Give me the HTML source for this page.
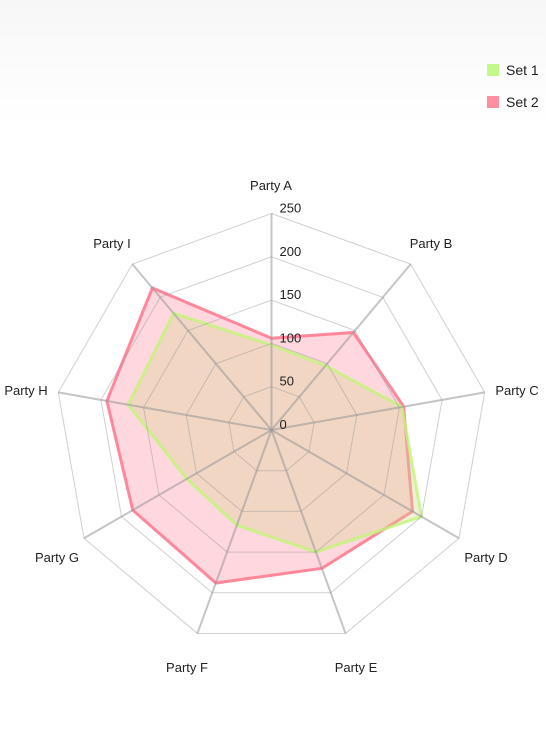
<!DOCTYPE html>
<html><head><meta charset="utf-8"><style>
html,body{margin:0;padding:0;background:#fff;}
body{width:546px;height:729px;overflow:hidden;position:relative;font-family:"Liberation Sans",sans-serif;}
#hdr{position:absolute;left:0;top:0;width:546px;height:125px;background:linear-gradient(#f7f7f7,#fff);}
svg{position:absolute;left:0;top:0;}
</style></head><body>
<div id="hdr"></div>
<svg id="chart" width="546" height="729">
<g>
<g><rect x="487" y="64" width="12" height="12" fill="#c4f98a"/><text x="506" y="75" font-size="14" fill="#222">Set 1</text></g>
<g><rect x="487" y="96" width="12" height="12" fill="#ff8e9e"/><text x="506" y="107" font-size="14" fill="#222">Set 2</text></g>
</g>
</svg>
<script>
const categories=["Party A","Party B","Party C","Party D","Party E","Party F","Party G","Party H","Party I"];
const set1=[98,97,153,200,150,117,113,168,176];
const set2=[106,147,155,188,170,188,185,193,214];
const ticks=[0,50,100,150,200,250];
const cx=271.5,cy=430,R=216.5,maxV=250;
const NS="http://www.w3.org/2000/svg";
const svg=document.getElementById('chart');
function ang(i){return i*2*Math.PI/categories.length;}
function pt(i,v){const r=v/maxV*R,a=ang(i);return [cx+r*Math.sin(a),cy-r*Math.cos(a)];}
function mk(t,attrs,parent){const e=document.createElementNS(NS,t);for(const k in attrs)e.setAttribute(k,attrs[k]);(parent||svg).appendChild(e);return e;}
function series(vals,fill,stroke,name){const p=vals.map((v,i)=>pt(i,v).join(',')).join(' ');
const e=mk('polygon',{points:p,fill:fill,stroke:stroke,'stroke-width':3,'stroke-linejoin':'miter'});

}
series(set2,'rgba(255,140,160,0.35)','rgba(255,130,150,0.95)','series-set-2');
series(set1,'rgba(212,211,146,0.35)','rgba(195,245,120,0.8)','series-set-1');
const grid=mk('g',{});


ticks.forEach(t=>{if(t===0)return;const p=categories.map((c,i)=>pt(i,t).join(',')).join(' ');
const e=mk('polygon',{points:p,fill:'none',stroke:'rgba(150,150,150,0.45)','stroke-width':1},grid);

});
categories.forEach((c,i)=>{const p=pt(i,maxV);
const e=mk('line',{x1:cx,y1:cy,x2:p[0],y2:p[1],stroke:'rgba(150,150,150,0.55)','stroke-width':2},grid);

});
ticks.forEach(t=>{const y=cy-t/maxV*R;const e=mk('text',{x:cx+8,y:y-1,'font-size':13,fill:'#222'});e.textContent=t;

});
const labelPos=[[271,190],[431,248],[517,395],[486,562],[356,672],[187,672],[57,562],[26,395],[112,248]];
categories.forEach((c,i)=>{const e=mk('text',{x:labelPos[i][0],y:labelPos[i][1],'font-size':13,fill:'#222','text-anchor':'middle'});e.textContent=c;

});
</script>
</body></html>
